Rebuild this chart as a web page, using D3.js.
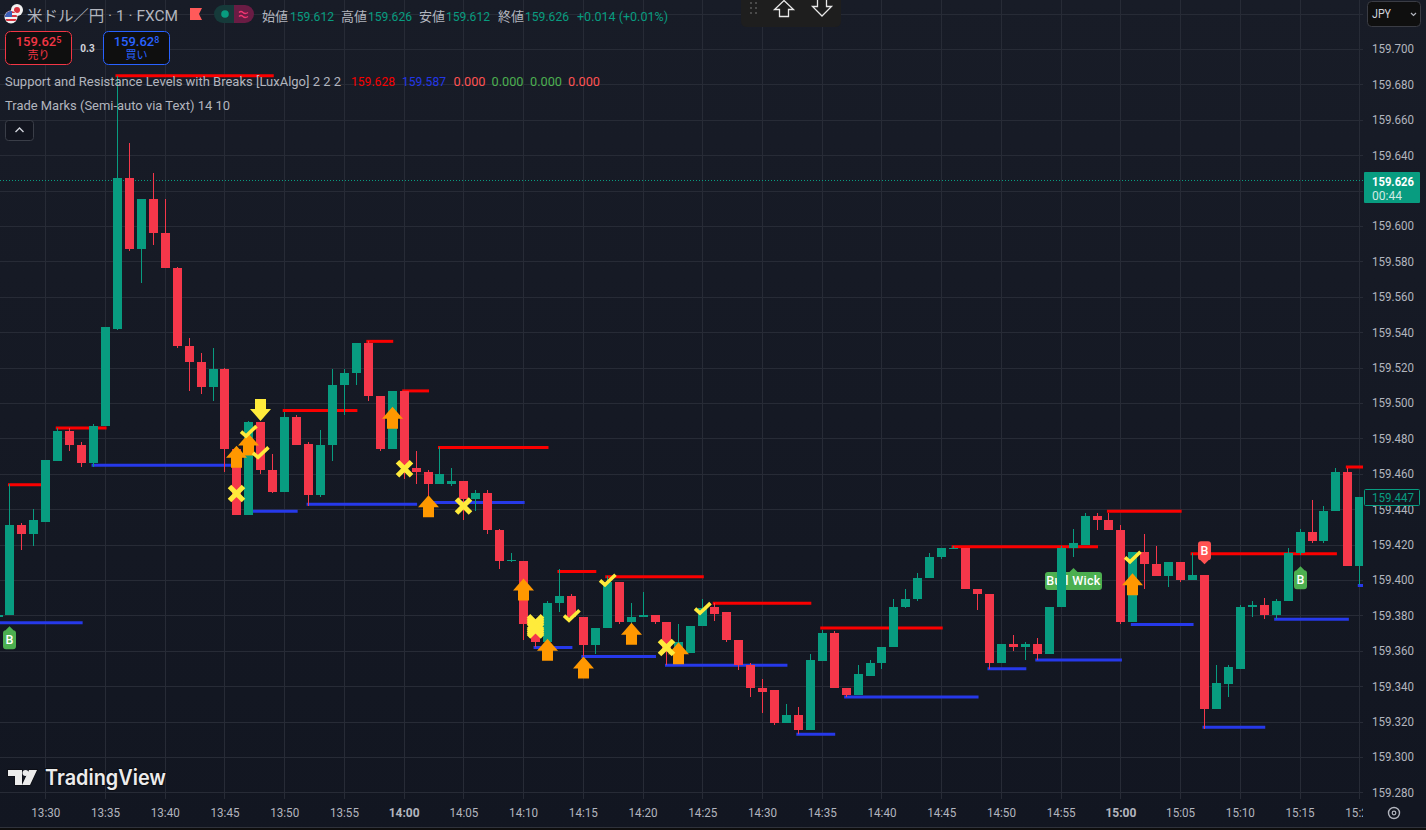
<!DOCTYPE html>
<html lang="ja">
<head>
<meta charset="utf-8">
<title>USD/JPY 1 FXCM</title>
<script src="https://cdn.jsdelivr.net/npm/d3@7"></script>
<style>
html,body{margin:0;padding:0;background:#131722;overflow:hidden}
svg{display:block}
text{font-family:Roboto,"Noto Sans CJK JP",sans-serif}
.yaxis text,.xaxis text{font-size:13px;fill:#b2b5be}
</style>
</head>
<body>
<div id="chart"></div>
<script>
// bars: minutes after 13:30 are firstBarMinute, firstBarMinute + 1, ...
const firstBarMinute = -4;
const opens = [159.379,159.380,159.431,159.426,159.433,159.467,159.484,159.476,159.466,159.487,
159.542,159.627,159.587,159.615,159.596,159.576,159.532,159.523,159.509,159.519,
159.474,159.437,159.489,159.462,159.450,159.492,159.477,159.448,159.476,159.510,
159.517,159.534,159.504,159.474,159.507,159.463,159.461,159.454,159.454,159.456,
159.446,159.449,159.428,159.411,159.411,159.375,159.365,159.387,159.391,159.379,
159.363,159.373,159.399,159.376,159.379,159.380,159.376,159.358,159.359,159.374,
159.385,159.382,159.366,159.352,159.339,159.338,159.319,159.324,159.315,159.354,
159.370,159.339,159.335,159.346,159.353,159.362,159.385,159.389,159.401,159.413,
159.418,159.418,159.395,159.392,159.353,159.364,159.362,159.364,159.358,159.385,
159.418,159.420,159.436,159.434,159.428,159.376,159.416,159.409,159.402,159.410,
159.400,159.403,159.327,159.341,159.350,159.385,159.386,159.380,159.388,159.415,
159.427,159.422,159.439,159.461,159.408];
const highs = [159.381,159.454,159.432,159.440,159.468,159.486,159.486,159.478,159.488,159.543,
159.685,159.647,159.615,159.630,159.615,159.577,159.537,159.528,159.531,159.520,
159.475,159.490,159.489,159.471,159.495,159.493,159.478,159.485,159.519,159.519,
159.534,159.535,159.504,159.507,159.507,159.473,159.462,159.475,159.463,159.456,
159.451,159.451,159.429,159.415,159.411,159.375,159.388,159.406,159.392,159.379,
159.373,159.402,159.399,159.387,159.393,159.380,159.376,159.375,159.374,159.389,
159.387,159.382,159.366,159.353,159.344,159.338,159.330,159.328,159.358,159.372,
159.371,159.339,159.352,159.355,159.362,159.389,159.395,159.404,159.415,159.418,
159.419,159.418,159.395,159.392,159.364,159.369,159.365,159.367,159.385,159.419,
159.429,159.438,159.438,159.438,159.431,159.416,159.426,159.419,159.410,159.410,
159.415,159.403,159.352,159.352,159.386,159.388,159.390,159.389,159.418,159.429,
159.445,159.442,159.463,159.463,159.447];
const lows = [159.379,159.380,159.417,159.419,159.433,159.467,159.473,159.464,159.464,159.487,
159.541,159.586,159.568,159.589,159.576,159.531,159.507,159.505,159.501,159.461,
159.437,159.437,159.460,159.449,159.450,159.476,159.442,159.447,159.467,159.493,
159.510,159.501,159.473,159.474,159.457,159.454,159.445,159.454,159.453,159.434,
159.439,159.426,159.406,159.410,159.366,159.362,159.365,159.382,159.379,159.357,
159.358,159.373,159.375,159.375,159.379,159.375,159.352,159.358,159.359,159.374,
159.377,159.365,159.349,159.334,159.325,159.318,159.319,159.313,159.315,159.354,
159.339,159.334,159.335,159.346,159.350,159.362,159.384,159.388,159.401,159.412,
159.418,159.395,159.383,159.350,159.353,159.360,159.355,159.355,159.358,159.385,
159.413,159.420,159.428,159.428,159.375,159.376,159.395,159.402,159.396,159.399,
159.400,159.316,159.327,159.334,159.350,159.379,159.378,159.378,159.388,159.414,
159.421,159.421,159.439,159.408,159.397];
const closes = [159.380,159.431,159.426,159.434,159.468,159.484,159.476,159.466,159.487,159.543,
159.627,159.587,159.615,159.596,159.576,159.532,159.523,159.509,159.519,159.474,
159.437,159.489,159.462,159.450,159.492,159.476,159.448,159.476,159.510,159.517,
159.534,159.504,159.474,159.507,159.463,159.461,159.454,159.460,159.456,159.446,
159.449,159.428,159.411,159.4115,159.375,159.365,159.387,159.391,159.379,159.363,
159.373,159.399,159.376,159.379,159.380,159.376,159.361,159.365,159.374,159.384,
159.381,159.366,159.352,159.339,159.337,159.319,159.324,159.315,159.355,159.370,
159.339,159.335,159.347,159.353,159.362,159.385,159.389,159.401,159.413,159.418,
159.418,159.395,159.392,159.353,159.364,159.362,159.364,159.358,159.385,159.418,
159.421,159.436,159.434,159.428,159.376,159.416,159.409,159.402,159.410,159.400,
159.403,159.327,159.342,159.351,159.385,159.386,159.380,159.388,159.415,159.427,
159.422,159.439,159.461,159.408,159.447];

const priceTicks = [159.700,159.680,159.660,159.640,159.620,159.600,159.580,159.560,159.540,159.520,159.500,159.480,159.460,159.440,159.420,159.400,159.380,159.360,159.340,159.320,159.300,159.280];
const gridOnlyPrices = [159.720];
const timeTickMinutes = [0,5,10,15,20,25,30,35,40,45,50,55,60,65,70,75,80,85,90,95,100,105,110];
const timeTickLabels = ["13:30","13:35","13:40","13:45","13:50","13:55","14:00","14:05","14:10","14:15","14:20","14:25","14:30","14:35","14:40","14:45","14:50","14:55","15:00","15:05","15:10","15:15","15:20"];
const boldTimeLabels = ["14:00","15:00"];

const resistancePrices = [159.454,159.486,159.685,159.496,159.535,159.507,159.475,159.405,159.402,159.387,159.373,159.419,159.439,159.415,159.464];
const resistanceStarts = [-3,1,6,20,27,30,33,43,47,56,65,76,89,96,109];
const resistanceEnds   = [0,5,19,26,29,32,42,46,55,64,75,88,95,108,114];
const supportPrices = [159.376,159.465,159.439,159.443,159.444,159.362,159.357,159.352,159.313,159.334,159.350,159.355,159.375,159.317,159.378,159.397];
const supportStarts = [-5,4,17,22,32,41,45,52,63,67,79,83,91,97,103,110];
const supportEnds   = [3,16,21,31,40,44,51,62,66,78,82,90,96,102,109,114];

const upArrowMinutes = [16,17,29,32,40,42,45,49,53,91];
const upArrowPrices  = [159.476,159.483,159.498,159.448,159.401,159.367,159.357,159.376,159.365,159.404];
const downArrowMinutes = [18];
const downArrowPrices  = [159.490];
const crossMinutes = [16,30,35,52,41,41,41,41,41];
const crossPrices  = [159.449,159.463,159.442,159.362,159.376,159.375,159.374,159.373,159.372];
const checkMinutes = [17,18,44,47,55,91];
const checkPrices  = [159.484,159.472,159.380,159.400,159.384,159.413];

const lastPrice = 159.626;
const lastClose = 159.447;

const W = 1426, H = 830, paneR = 1363, paneB = 799;
const x = d3.scaleLinear().domain([0,110]).range([45.3,1359.3]);
const y = d3.scaleLinear().domain([159.30,159.70]).range([757.3,49.3]);
const px = m => Math.round(x(m)) + 0.5;
const py = p => Math.round(y(p) - 0.3);

const GREEN = "#089c80", RED = "#f5374a", YEL = "#ffeb3b", ORG = "#ff9800";

const svg = d3.select("#chart").append("svg").attr("width",W).attr("height",H);
const defs = svg.append("defs");
const grad = defs.append("linearGradient").attr("id","bg").attr("x1",0).attr("x2",0).attr("y1",0).attr("y2",1);
grad.append("stop").attr("offset",0).attr("stop-color","#181c27");
grad.append("stop").attr("offset",1).attr("stop-color","#121621");
defs.append("clipPath").attr("id","pane").append("rect").attr("width",paneR).attr("height",paneB);
svg.append("rect").attr("width",W).attr("height",H).attr("fill","url(#bg)");

// grid
const gridG = svg.append("g").attr("clip-path","url(#pane)").attr("stroke","#272b36").attr("stroke-width",1);
gridG.selectAll("line.h").data(priceTicks.concat(gridOnlyPrices)).join("line").attr("class","h")
  .attr("x1",0).attr("x2",paneR).attr("y1",d=>py(d)+.5).attr("y2",d=>py(d)+.5);
gridG.selectAll("line.v").data(timeTickMinutes).join("line").attr("class","v")
  .attr("x1",px).attr("x2",px).attr("y1",0).attr("y2",paneB);

// axes
svg.append("g").attr("class","yaxis").attr("transform","translate(1372,-0.5)")
  .call(d3.axisRight(y).tickValues(priceTicks).tickFormat(d3.format(".3f")).tickSize(0).tickPadding(0))
  .call(g=>g.select(".domain").remove())
  .call(g=>g.selectAll("text").attr("textLength",42).attr("lengthAdjust","spacingAndGlyphs"));
svg.append("g").attr("class","xaxis").attr("transform","translate(0,808)")
  .call(d3.axisBottom(x).tickValues(timeTickMinutes).tickFormat((d,i)=>timeTickLabels[i]).tickSize(0).tickPadding(0))
  .call(g=>g.select(".domain").remove())
  .call(g=>g.selectAll("text").attr("dy","0.71em").style("font-size","13px")
    .attr("textLength",(d,i)=>boldTimeLabels.includes(timeTickLabels[i])?31:29).attr("lengthAdjust","spacingAndGlyphs")
    .style("font-weight",(d,i)=>boldTimeLabels.includes(timeTickLabels[i])?700:400));
svg.append("rect").attr("x",paneR).attr("y",paneB+1).attr("width",W-paneR).attr("height",H-paneB-3).attr("fill","#121621");
svg.append("rect").attr("x",0).attr("y",827).attr("width",W).attr("height",3).attr("fill","#0e0e0e");
svg.append("rect").attr("x",0).attr("y",827).attr("width",W).attr("height",1).attr("fill","#2f323b");

const pane = svg.append("g").attr("clip-path","url(#pane)");

// levels
function levels(prices,starts,ends,col){
  pane.append("g").selectAll("line").data(prices).join("line")
    .attr("x1",(d,i)=>x(starts[i])).attr("x2",(d,i)=>x(ends[i]))
    .attr("y1",d=>y(d)).attr("y2",d=>y(d))
    .attr("stroke",col).attr("stroke-width",3).attr("stroke-linecap","square");
}
levels(resistancePrices,resistanceStarts,resistanceEnds,"#fb0000");
levels(supportPrices,supportStarts,supportEnds,"#2639ea");

// dotted last price line
pane.append("line").attr("x1",0).attr("x2",paneR).attr("y1",py(lastPrice)+.5).attr("y2",py(lastPrice)+.5)
  .attr("stroke",GREEN).attr("stroke-dasharray","1 2");

// labels under candles
function label(minute,price,txt,w,h,col,up,fs,ls){
  const cx = px(minute), t = y(price), g = pane.append("g");
  const r=3, tip=4;
  const hw=w/2;
  let d;
  if(up){
    const top=t+tip, bot=t+h;
    d=`M${cx} ${t}L${cx+tip} ${top}H${cx+hw-r}Q${cx+hw} ${top} ${cx+hw} ${top+r}V${bot-r}Q${cx+hw} ${bot} ${cx+hw-r} ${bot}H${cx-hw+r}Q${cx-hw} ${bot} ${cx-hw} ${bot-r}V${top+r}Q${cx-hw} ${top} ${cx-hw+r} ${top}H${cx-tip}Z`;
  } else {
    const bot=t-tip, top=t-h;
    d=`M${cx} ${t}L${cx+tip} ${bot}H${cx+hw-r}Q${cx+hw} ${bot} ${cx+hw} ${bot-r}V${top+r}Q${cx+hw} ${top} ${cx+hw-r} ${top}H${cx-hw+r}Q${cx-hw} ${top} ${cx-hw} ${top+r}V${bot-r}Q${cx-hw} ${bot} ${cx-hw+r} ${bot}H${cx-tip}Z`;
  }
  g.append("path").attr("d",d).attr("fill",col);
  g.append("text").attr("x",cx).attr("y",up?t+(h+tip)/2:t-(h+tip)/2).attr("text-anchor","middle").attr("dominant-baseline","central")
    .attr("fill","#fff").style("font-size",fs+"px").style("font-weight",500).style("letter-spacing",ls+"px").text(txt);
}
const labelMinutes=[-3,105,97,86], labelPrices=[159.374,159.408,159.409,159.407];
const labelTexts=["B","B","B","Bull Wick"];
const labelWidths=[13,13,13,57], labelHeights=[23,23,23,22];
const labelColors=["#4caf50","#4caf50","#ff5252","#4caf50"], labelUp=[true,true,false,true];
labelTexts.forEach((t,i)=>label(labelMinutes[i],labelPrices[i],t,labelWidths[i],labelHeights[i],labelColors[i],labelUp[i],12.5,i===3?0.3:0));

// candles
const bars = opens.map((o,i)=>({m:firstBarMinute+i,o,h:highs[i],l:lows[i],c:closes[i]}));
const cg = pane.append("g");
cg.selectAll("rect.w").data(bars).join("rect").attr("class","w")
  .attr("x",d=>px(d.m)-.5).attr("width",1)
  .attr("y",d=>py(d.h)).attr("height",d=>Math.max(1,py(d.l)-py(d.h)))
  .attr("fill",d=>d.c>=d.o?GREEN:RED);
cg.selectAll("rect.b").data(bars).join("rect").attr("class","b")
  .attr("x",d=>px(d.m)-4.5).attr("width",9)
  .attr("y",d=>py(Math.max(d.o,d.c))).attr("height",d=>Math.max(1,py(Math.min(d.o,d.c))-py(Math.max(d.o,d.c))))
  .attr("fill",d=>d.c>=d.o?GREEN:RED);

// marks
const marks = svg.append("g");
const upShape = "M0 0L10.5 12H5.5V22H-5.5V12H-10.5Z";
const downShape = "M0 0L-10.5 -12H-5.5V-22H5.5V-12H10.5Z";
marks.selectAll("path.up").data(upArrowMinutes).join("path").attr("class","up")
  .attr("d",upShape).attr("fill",ORG).attr("transform",(m,i)=>`translate(${px(m)},${y(upArrowPrices[i])})`);
marks.selectAll("path.dn").data(downArrowMinutes).join("path").attr("class","dn")
  .attr("d",downShape).attr("fill",YEL).attr("transform",(m,i)=>`translate(${px(m)},${y(downArrowPrices[i])})`);
marks.selectAll("path.cr").data(crossMinutes).join("path").attr("class","cr")
  .attr("d","M-7 -7L7 7M7 -7L-7 7").attr("fill","none").attr("stroke",YEL).attr("stroke-width",5)
  .attr("transform",(m,i)=>`translate(${px(m)},${y(crossPrices[i])})`);
marks.selectAll("path.ck").data(checkMinutes).join("path").attr("class","ck")
  .attr("d","M-7.5 0L-2.5 4.5L8 -5.5").attr("fill","none").attr("stroke",YEL).attr("stroke-width",3.6)
  .attr("transform",(m,i)=>`translate(${px(m)},${y(checkPrices[i])})`);

// right side tags
svg.append("rect").attr("x",1364).attr("y",172).attr("width",56).attr("height",31).attr("rx",1).attr("fill",GREEN);
svg.append("text").attr("x",1372).attr("y",185.5).attr("fill","#fff").attr("textLength",42).attr("lengthAdjust","spacingAndGlyphs").style("font-size","13px").style("font-weight",700).text(d3.format(".3f")(lastPrice));
svg.append("text").attr("x",1372).attr("y",200).attr("fill","#cfe9e3").attr("textLength",30).attr("lengthAdjust","spacingAndGlyphs").style("font-size","13px").text("00:44");
svg.append("rect").attr("x",1364.5).attr("y",489.5).attr("width",55).attr("height",16).attr("rx",1).attr("fill","#121722").attr("stroke",GREEN);
svg.append("text").attr("x",1372).attr("y",502).attr("fill",GREEN).attr("textLength",42).attr("lengthAdjust","spacingAndGlyphs").style("font-size","13px").text(d3.format(".3f")(lastClose));

// JPY box
svg.append("rect").attr("x",1367.5).attr("y",1.5).attr("width",53).attr("height",25).attr("rx",4).attr("fill","#0f0f0f").attr("stroke","#3a3c44");
svg.append("text").attr("x",1372).attr("y",17.5).attr("fill","#d1d4dc").attr("textLength",19).attr("lengthAdjust","spacingAndGlyphs").style("font-size","13px").text("JPY");
svg.append("path").attr("d","M1411 13L1413.5 15.5L1416 13").attr("fill","none").attr("stroke","#b2b5be").attr("stroke-width",1.2);
// settings icon
svg.append("circle").attr("cx",1394).attr("cy",813).attr("r",5.5).attr("fill","none").attr("stroke","#b2b5be").attr("stroke-width",1.4);
svg.append("circle").attr("cx",1394).attr("cy",813).attr("r",1.8).attr("fill","none").attr("stroke","#b2b5be").attr("stroke-width",1.2);

// Toolbar top
svg.append("path").attr("d","M741 0H841V21Q841 27 835 27H747Q741 27 741 21Z").attr("fill","#1e1e1e");
[750,755].forEach(cx=>[2,7,12].forEach(cy=>svg.append("rect").attr("x",cx).attr("y",cy).attr("width",2).attr("height",2).attr("fill","#4a4a4a")));
svg.append("path").attr("d","M784 0.5L793.5 9.5H788.5V16.5H779.5V9.5H774.5Z").attr("fill","none").attr("stroke","#e8e8e8").attr("stroke-width",1.3);
svg.append("path").attr("d","M817.5 0V6.5H812.5L822 16L831.5 6.5H826.5V0").attr("fill","none").attr("stroke","#e8e8e8").attr("stroke-width",1.3);

// header
const T = (xp,yp,s,col,fs,len)=>{const t=svg.append("text").attr("x",xp).attr("y",yp).attr("fill",col).style("font-size",(fs||13)+"px").text(s); if(len) t.attr("textLength",len).attr("lengthAdjust","spacingAndGlyphs"); return t;};
const GREY="#b2b5be";
// currency icons
svg.append("circle").attr("cx",17).attr("cy",10).attr("r",6).attr("fill","#f2f2f2");
svg.append("circle").attr("cx",17).attr("cy",10).attr("r",3).attr("fill","#d8323f");
svg.append("circle").attr("cx",11).attr("cy",17).attr("r",6.5).attr("fill","#f2f2f2");
defs.append("clipPath").attr("id","usd").append("circle").attr("cx",11).attr("cy",17).attr("r",6);
const us=svg.append("g").attr("clip-path","url(#usd)");
[11,15,19,23].forEach(v=>us.append("rect").attr("x",4).attr("y",v).attr("width",14).attr("height",2).attr("fill","#d8323f"));
us.append("rect").attr("x",4).attr("y",10).attr("width",8).attr("height",7).attr("fill","#3b5fb8");
T(27,20.5,"米ドル／円 · 1 · FXCM",GREY,15,151);
svg.append("path").attr("d","M190 8H202L199 14L202 20H190Z").attr("fill","#ff5a5a");
svg.append("path").attr("d","M223 5H234V23H223A9 9 0 0 1 223 5Z").attr("fill","#163a3a");
svg.append("path").attr("d","M234 5H245A9 9 0 0 1 245 23H234Z").attr("fill","#6a1c44");
svg.append("circle").attr("cx",225).attr("cy",14).attr("r",3.8).attr("fill",GREEN);
svg.append("path").attr("d","M239 12.5Q241 10.5 243 12.5T248 12.5M239 16.5Q241 14.5 243 16.5T248 16.5").attr("fill","none").attr("stroke","#f23672").attr("stroke-width",1.3);

const ohlcLabels=["始値","高値","安値","終値"], ohlcValues=["159.612","159.626","159.612","159.626"];
const ohlcLabelX=[262,341,419,498], ohlcValueX=[290,368,446,525];
ohlcLabels.forEach((l,i)=>{T(ohlcLabelX[i],20.5,l,GREY,13);T(ohlcValueX[i],20.5,ohlcValues[i],GREEN,13,44);});
T(577,20.5,"+0.014 (+0.01%)",GREEN,13,91);

// buy/sell buttons
function btn(xp,w,col,big,sup,sub){
  svg.append("rect").attr("x",xp+.5).attr("y",31.5).attr("width",w).attr("height",33).attr("rx",5).attr("fill","#0f0f0f").attr("stroke",col);
  const t=svg.append("text").attr("x",xp+w/2+.5).attr("y",46).attr("text-anchor","middle").attr("fill",col).style("font-size","13px").style("font-weight",500);
  t.append("tspan").text(big);
  t.append("tspan").attr("dy",-3).style("font-size","9px").text(sup);
  svg.append("text").attr("x",xp+w/2+.5).attr("y",59).attr("text-anchor","middle").attr("fill",col).style("font-size","11px").text(sub);
}
btn(5,66,"#f23645","159.62","5","売り");
btn(103,66,"#2962ff","159.62","8","買い");
svg.append("text").attr("x",87.5).attr("y",52).attr("text-anchor","middle").attr("fill","#d1d4dc").style("font-size","10px").style("font-weight",700).text("0.3");

// indicator rows
T(5,86,"Support and Resistance Levels with Breaks [LuxAlgo] 2 2 2",GREY,13,336);
const indValues=["159.628","159.587","0.000","0.000","0.000","0.000"];
const indX=[351,402,453.5,491.5,530,568];
const indW=[44,44,32,32,32,32];
const indCols=["#f50000","#2337e6","#ff5252","#4caf50","#4caf50","#ff5252"];
indValues.forEach((v,i)=>T(indX[i],86,v,indCols[i],13,indW[i]));
T(5,110,"Trade Marks (Semi-auto via Text) 14 10",GREY,13,225);
svg.append("rect").attr("x",5.5).attr("y",120.5).attr("width",28).attr("height",20).attr("rx",3).attr("fill","#12151f").attr("stroke","#3a3e48");
svg.append("path").attr("d","M15.5 132L19.5 128L23.5 132").attr("fill","none").attr("stroke","#d1d4dc").attr("stroke-width",1.4);

// logo
const logo=svg.append("g");
logo.append("path").attr("d","M8 770H22V785H15V776H8Z M37 770L30 785H22L29 770Z").attr("fill","#ececec").attr("stroke","#0c0e14").attr("stroke-width",1.5).attr("paint-order","stroke");
logo.append("circle").attr("cx",25.5).attr("cy",773).attr("r",3).attr("fill","#ececec");
logo.append("text").attr("x",45).attr("y",785).attr("fill","#ececec").attr("stroke","#0c0e14").attr("stroke-width",2).attr("paint-order","stroke").attr("textLength",121).attr("lengthAdjust","spacingAndGlyphs")
  .style("font-family","Inter,Roboto,sans-serif").style("font-size","21px").style("font-weight",600).text("TradingView");
</script>
</body>
</html>
